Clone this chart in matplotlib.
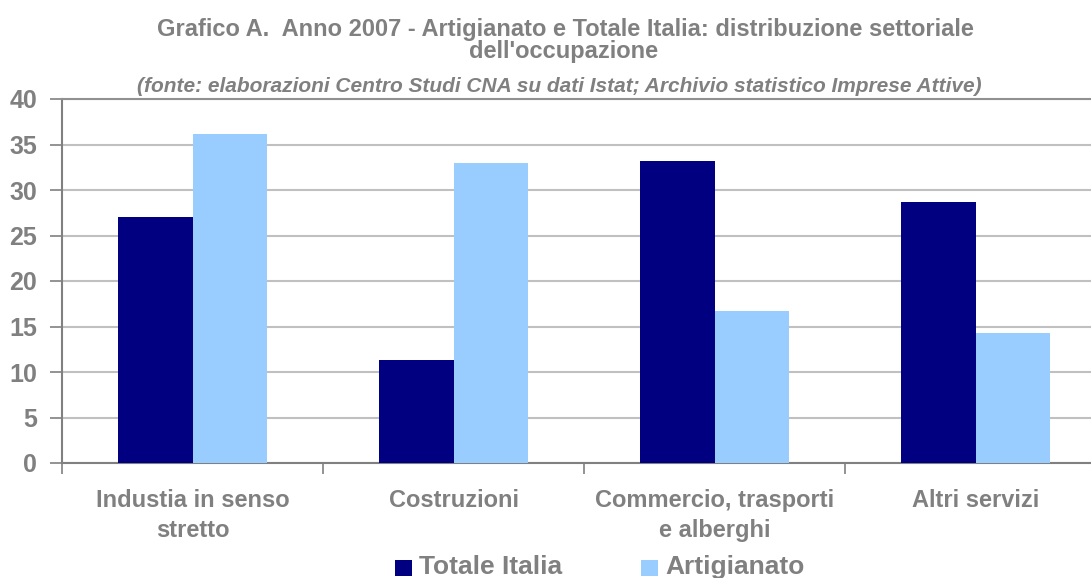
import matplotlib
matplotlib.use("Agg")
import matplotlib.pyplot as plt
from matplotlib.patches import Rectangle
from matplotlib.legend_handler import HandlerPatch
import numpy as np

categories = ["Industia in senso\nstretto", "Costruzioni", "Commercio, trasporti\ne alberghi", "Altri servizi"]
series_names = ["Totale Italia", "Artigianato"]
totale_italia = [27.0, 11.3, 33.2, 28.7]
artigianato = [36.1, 33.0, 16.7, 14.3]
yticks = [0, 5, 10, 15, 20, 25, 30, 35, 40]

title_line1 = "Grafico A.  Anno 2007 - Artigianato e Totale Italia: distribuzione settoriale"
title_line2 = "dell'occupazione"
subtitle = "(fonte: elaborazioni Centro Studi CNA su dati Istat; Archivio statistico Imprese Attive)"

plt.rcParams['font.family'] = ['Liberation Sans', 'DejaVu Sans']
GRAY = "#808080"

W, H = 1091, 578
fig = plt.figure(figsize=(W / 100, H / 100), dpi=100)
left_px, right_px, top_px, bottom_px = 62, 1106, 99, 463
ax = fig.add_axes([left_px / W, (H - bottom_px) / H, (right_px - left_px) / W, (bottom_px - top_px) / H])

x = np.arange(len(categories))
bw = 0.287
b1 = ax.bar(x - bw / 2, totale_italia, bw, color="#000080", label=series_names[0], zorder=3)
b2 = ax.bar(x + bw / 2, artigianato, bw, color="#99CCFF", label=series_names[1], zorder=3)

ax.set_xlim(-0.5, len(categories) - 0.5)
ax.set_ylim(0, 40)
ax.set_yticks(yticks)
ax.set_yticklabels([str(v) for v in yticks])
ax.yaxis.grid(True, color="#c0c0c0", linewidth=1.5, zorder=0)
ax.set_axisbelow(True)

ax.set_xticks(np.arange(len(categories) + 1) - 0.5)
ax.set_xticklabels([])
ax.set_xticks(x, minor=True)
ax.set_xticklabels(categories, minor=True, fontsize=17, fontweight="bold", color=GRAY, linespacing=1.38)
ax.tick_params(axis="x", which="minor", length=0, pad=19)
ax.tick_params(axis="x", which="major", length=8, width=1.2, color=GRAY, direction="out")
ax.tick_params(axis="y", length=9, width=1.2, color=GRAY, direction="out", pad=9,
               labelsize=18, labelcolor=GRAY)
for lbl in ax.get_yticklabels():
    lbl.set_fontweight("bold")

ax.spines["right"].set_visible(False)
ax.spines["top"].set_color("#909090")
ax.spines["top"].set_linewidth(1.5)
for s in ["left", "bottom"]:
    ax.spines[s].set_color(GRAY)
    ax.spines[s].set_linewidth(1.5)

fig.text(565 / W, 1 - 36 / H, title_line1, ha="center", va="baseline", fontsize=17, fontweight="bold",
         color=GRAY)
fig.text(564 / W, 1 - 58 / H, title_line2, ha="center", va="baseline", fontsize=17, fontweight="bold",
         color=GRAY)
fig.text(559 / W, 1 - 92 / H, subtitle, ha="center", va="baseline", fontsize=15, fontweight="bold",
         style="italic", color=GRAY)


def shifted_square(legend, orig_handle, xdescent, ydescent, width, height, fontsize):
    return Rectangle((-xdescent, -ydescent - 0.12 * fontsize), width, height)


leg = fig.legend(handles=[b1[0], b2[0]], labels=series_names, loc="upper left",
                 bbox_to_anchor=(395 / W, 1 - 555 / H), ncol=2, frameon=False,
                 prop={"size": 19, "weight": "bold"}, handlelength=0.64, handleheight=0.57,
                 handletextpad=0.27, columnspacing=3.0, borderaxespad=0, borderpad=0,
                 handler_map={Rectangle: HandlerPatch(patch_func=shifted_square)})
for t in leg.get_texts():
    t.set_color(GRAY)

fig.savefig("out.png", dpi=100)
